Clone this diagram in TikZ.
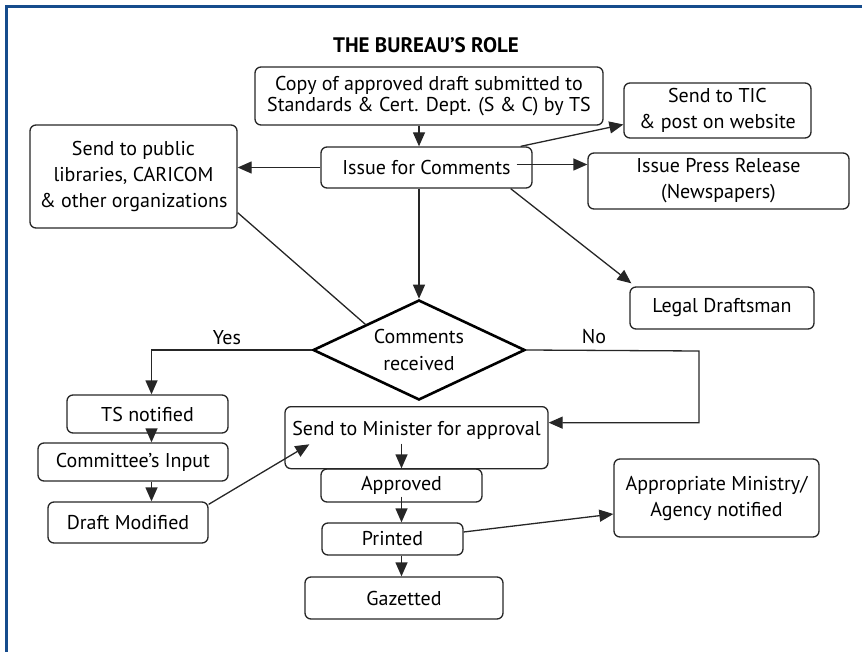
\documentclass[tikz,border=0pt]{standalone}
\usepackage{fontspec}
\setmainfont{PT Sans}
\usepackage{tikz}
\usetikzlibrary{arrows.meta,shapes.geometric,calc}
\definecolor{framebl}{RGB}{22,76,140}

\begin{document}
\begin{tikzpicture}[x=1pt,y=-1pt,>={Triangle[length=14pt,width=12pt]},
		box/.style={draw=black!85,line width=1.3pt,rounded corners=6pt,align=center,inner sep=0pt,font=\fontsize{20}{26}\selectfont},
		decision/.style={diamond,draw=black,line width=2.6pt,aspect=2.1,align=center,inner sep=0pt,minimum width=212,minimum height=100,font=\fontsize{20}{27}\selectfont},
		conn/.style={draw=black!85,line width=1.3pt},
		lbl/.style={font=\fontsize{20}{24}\selectfont}]
		
			\useasboundingbox (0,0) rectangle (862,652);
			\draw [framebl,line width=3pt] (6,652) -- (6,7) -- (862,7);
			
			\node [font=\bfseries\fontsize{21}{24}\selectfont] (title) at (426,45) {THE BUREAU’S ROLE};
			
			\node [box,minimum width=348,minimum height=58] (copy) at (429,96) {Copy of approved draft submitted to\\[-5pt]Standards \& Cert. Dept. (S \& C) by TS};
			\node [box,minimum width=211,minimum height=41] (issue) at (426.5,167.5) {Issue for Comments};
			\node [box,minimum width=207,minimum height=103] (public) at (133.5,176.5) {Send to public\\libraries, CARICOM\\\& other organizations};
			\node [box,minimum width=187,minimum height=55] (tic) at (717.5,110.5) {Send to TIC\\\& post on website};
			\node [box,minimum width=261,minimum height=56] (press) at (718.5,181) {Issue Press Release\\(Newspapers)};
			\node [box,minimum width=184,minimum height=42] (legal) at (722,308) {Legal Draftsman};
			\node [decision] (cr) at (419,350) {Comments\\received};
			
			\node [box,minimum width=161,minimum height=38] (tsn) at (147.5,414) {TS notified};
			\node [box,minimum width=190,minimum height=38] (cin) at (133,462) {Committee’s Input};
			\node [box,minimum width=160,minimum height=41] (dmod) at (128,522.5) {Draft Modified};
			
			\node [box,anchor=north,minimum width=263,text height=29pt,text depth=33pt] (minis) at (416.5,406) {Send to Minister for approval};
			\node [box,minimum width=161,minimum height=33] (appr) at (401.5,485.5) {Approved};
			\node [box,minimum width=141,minimum height=32] (prin) at (392.5,539) {Printed};
			\node [box,minimum width=198,minimum height=42] (gaz) at (404,598) {Gazetted};
			\node [box,minimum width=205,minimum height=78] (agency) at (716.5,498) {Appropriate Ministry/\\Agency notified};
			
			\node [lbl] (yes) at (227,338) {Yes};
			\node [lbl] (no) at (594,337) {No};
			\coordinate (noturn) at (699,351);
			
			\draw [->,conn] (copy.south -| cr.north) -- (issue.north -| cr.north);
			\draw [->,conn] (issue.south -| cr.north) -- (cr.north);
			\draw [->,conn] (issue.west) -- (issue.west -| public.east);
			\draw [->,conn] ([xshift=-12pt]issue.north east) -- ([yshift=-14pt]tic.west);
			\draw [->,conn] ([xshift=-16pt,yshift=3pt]issue.east) -- ([yshift=3pt]issue.east -| press.west);
			\draw [->,conn] ([xshift=-22pt]issue.south east) -- ([xshift=2pt,yshift=3pt]legal.north west);
			\draw [conn] ([yshift=16pt]public.south east) -- (cr.north west);
			
			\draw [->,conn] (cr.west) -| ([xshift=4pt]tsn.north);
			\draw [->,conn] ([xshift=4pt]tsn.south) -- ([xshift=4pt]tsn.south |- cin.north);
			\draw [->,conn] ([xshift=4pt]tsn.south |- cin.south) -- ([xshift=4pt]tsn.south |- dmod.north);
			\draw [->,conn] ([yshift=-3pt]dmod.north east) -- ([xshift=25pt,yshift=25pt]minis.south west);
			
			\draw [->,conn] (cr.east) -- (noturn) |- ([yshift=15pt]minis.east);
			\draw [->,conn] ($(minis.base -| appr.north)+(0,8)$) -- (appr.north);
			\draw [->,conn] ([yshift=6pt]appr.south) -- (appr.south |- prin.north);
			\draw [->,conn] (prin.south -| appr.south) -- (gaz.north -| appr.south);
			\draw [->,conn] ([yshift=7pt]prin.east) -- ([yshift=-16pt]agency.west);
	
		    \end{tikzpicture}
\end{document}
